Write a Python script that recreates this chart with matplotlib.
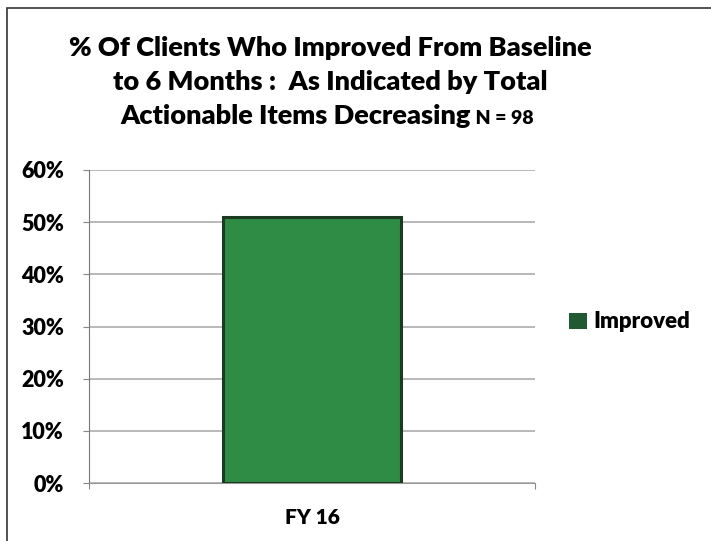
import matplotlib
matplotlib.use("Agg")
import matplotlib.pyplot as plt
from matplotlib.patches import Rectangle, Patch
from matplotlib.ticker import PercentFormatter, FixedLocator

categories = ["FY 16"]
improved = [0.51]
y_ticks = [0.0, 0.1, 0.2, 0.3, 0.4, 0.5, 0.6]
series_name = "Improved"

title_lines = [
    "% Of Clients Who Improved From Baseline",
    "to 6 Months :  As Indicated by Total",
    "Actionable Items Decreasing",
]
title_suffix = "N = 98"

FONT = "Lato"
BAR_COLOR = "#2f8c45"
BAR_EDGE = "#1c3a22"
GRID = "#a6a6a6"

plt.rcParams["font.family"] = [FONT, "DejaVu Sans"]

fig = plt.figure(figsize=(7.11, 5.41), dpi=100, facecolor="white")

# chart frame: only left and top edges are visible
fig.add_artist(Rectangle((7 / 711, -0.05), 1.2, 1 - 8 / 541 + 0.05,
                         transform=fig.transFigure, fill=False,
                         edgecolor="#333333", linewidth=1.2))

ax = fig.add_axes([89 / 711, 1 - 483 / 541, 446 / 711, 313 / 541])
ax.bar(range(len(categories)), improved, width=0.4, color=BAR_COLOR,
       edgecolor=BAR_EDGE, linewidth=2.2, zorder=3, label=series_name)

ax.set_xlim(-0.5, len(categories) - 0.5)
ax.set_ylim(0, 0.6)
ax.yaxis.set_major_locator(FixedLocator(y_ticks))
ax.yaxis.set_major_formatter(PercentFormatter(1.0, decimals=0))
ax.grid(axis="y", color=GRID, linewidth=1.1, zorder=0)

ax.set_xticks([i - 0.5 for i in range(len(categories) + 1)])
ax.set_xticklabels([])
ax.set_xticks(range(len(categories)), minor=True)
ax.set_xticklabels(categories, minor=True, fontsize=15, fontweight="heavy")
ax.tick_params(axis="x", which="minor", length=0, pad=18)
ax.tick_params(axis="x", which="major", length=4, color="#888888", direction="out")
ax.tick_params(axis="y", length=4, color="#888888", labelsize=15.5, pad=14)
for lbl in ax.get_yticklabels():
    lbl.set_fontweight("heavy")

for side in ["top", "right"]:
    ax.spines[side].set_visible(False)
ax.spines["left"].set_color("#777777")
ax.spines["bottom"].set_color("#999999")

handle = Patch(facecolor="#1f5a32", edgecolor="none", label=series_name)
leg = fig.legend(handles=[handle], loc="center left",
                 bbox_to_anchor=(549 / 711, 1 - 322 / 541),
                 frameon=False, fontsize=16, handlelength=0.8, handleheight=0.75,
                 handletextpad=0.3)
for t in leg.get_texts():
    t.set_fontweight("heavy")

# three-line title, last line ends with a smaller sample size
title_y = [48, 82, 116]
for text, y in zip(title_lines[:2], title_y[:2]):
    fig.text(330 / 711, 1 - y / 541, text, ha="center", va="center",
             fontsize=19.5, fontweight="heavy")
last = fig.text(296 / 711, 1 - title_y[2] / 541, title_lines[2], ha="center",
                va="center", fontsize=19.5, fontweight="heavy")
ax.annotate(" " + title_suffix, xy=(1, 0.05), xycoords=last, va="bottom",
            ha="left", fontsize=14, fontweight="heavy", annotation_clip=False)

fig.savefig("out.png", dpi=100, facecolor="white")
